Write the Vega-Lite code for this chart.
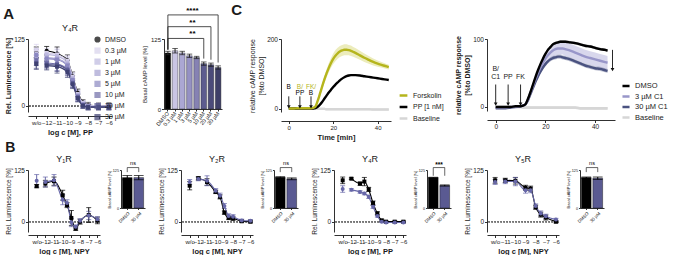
{
  "$schema": "https://vega.github.io/schema/vega-lite/v6.json",
  "padding": {"left": 3, "top": 2, "right": 0, "bottom": 0},
  "config": {
    "font": "Liberation Sans",
    "view": {"stroke": null},
    "axis": {"grid": false, "domainColor": "#1a1a1a", "tickColor": "#1a1a1a", "labelColor": "#1a1a1a", "titleColor": "#1a1a1a", "labelFontSize": 6.5, "titleFontSize": 7.5, "titleFontWeight": "bold", "tickSize": 2.5, "labelPadding": 1, "titlePadding": 2.5, "domainWidth": 0.9, "tickWidth": 0.9},
    "legend": {"labelFontSize": 7, "labelColor": "#1a1a1a", "padding": 0, "rowPadding": 0.5, "symbolSize": 20},
    "title": {"fontSize": 9, "fontWeight": "normal", "color": "#1a1a1a", "offset": 3},
    "errorbar": {"thickness": 0.8}
  },
  "datasets": {
    "aCurve": [
      {"c": "DMSO", "x": -13, "y": 100, "e": 10}, {"c": "DMSO", "x": -12, "y": 103, "e": 8}, {"c": "DMSO", "x": -11, "y": 98, "e": 12}, {"c": "DMSO", "x": -10, "y": 85, "e": 10}, {"c": "DMSO", "x": -9.5, "y": 55, "e": 8}, {"c": "DMSO", "x": -9, "y": 24, "e": 7}, {"c": "DMSO", "x": -8.5, "y": 6, "e": 5}, {"c": "DMSO", "x": -8, "y": 1, "e": 5}, {"c": "DMSO", "x": -7, "y": 0, "e": 5}, {"c": "DMSO", "x": -6, "y": 0, "e": 5},
      {"c": "0.3 µM", "x": -13, "y": 105, "e": 10}, {"c": "0.3 µM", "x": -12, "y": 99, "e": 8}, {"c": "0.3 µM", "x": -11, "y": 96, "e": 12}, {"c": "0.3 µM", "x": -10, "y": 84, "e": 10}, {"c": "0.3 µM", "x": -9.5, "y": 54, "e": 8}, {"c": "0.3 µM", "x": -9, "y": 22, "e": 7}, {"c": "0.3 µM", "x": -8.5, "y": 5, "e": 5}, {"c": "0.3 µM", "x": -8, "y": 0, "e": 5}, {"c": "0.3 µM", "x": -7, "y": 0, "e": 5}, {"c": "0.3 µM", "x": -6, "y": -1, "e": 5},
      {"c": "1 µM", "x": -13, "y": 97, "e": 10}, {"c": "1 µM", "x": -12, "y": 96, "e": 8}, {"c": "1 µM", "x": -11, "y": 93, "e": 12}, {"c": "1 µM", "x": -10, "y": 81, "e": 10}, {"c": "1 µM", "x": -9.5, "y": 52, "e": 8}, {"c": "1 µM", "x": -9, "y": 21, "e": 7}, {"c": "1 µM", "x": -8.5, "y": 4, "e": 5}, {"c": "1 µM", "x": -8, "y": -1, "e": 5}, {"c": "1 µM", "x": -7, "y": -1, "e": 5}, {"c": "1 µM", "x": -6, "y": -1, "e": 5},
      {"c": "3 µM", "x": -13, "y": 92, "e": 10}, {"c": "3 µM", "x": -12, "y": 90, "e": 8}, {"c": "3 µM", "x": -11, "y": 88, "e": 12}, {"c": "3 µM", "x": -10, "y": 77, "e": 10}, {"c": "3 µM", "x": -9.5, "y": 49, "e": 8}, {"c": "3 µM", "x": -9, "y": 19, "e": 7}, {"c": "3 µM", "x": -8.5, "y": 3, "e": 5}, {"c": "3 µM", "x": -8, "y": -1, "e": 5}, {"c": "3 µM", "x": -7, "y": -2, "e": 5}, {"c": "3 µM", "x": -6, "y": -1, "e": 5},
      {"c": "5 µM", "x": -13, "y": 95, "e": 10}, {"c": "5 µM", "x": -12, "y": 88, "e": 8}, {"c": "5 µM", "x": -11, "y": 86, "e": 12}, {"c": "5 µM", "x": -10, "y": 75, "e": 10}, {"c": "5 µM", "x": -9.5, "y": 48, "e": 8}, {"c": "5 µM", "x": -9, "y": 18, "e": 7}, {"c": "5 µM", "x": -8.5, "y": 2, "e": 5}, {"c": "5 µM", "x": -8, "y": -2, "e": 5}, {"c": "5 µM", "x": -7, "y": -2, "e": 5}, {"c": "5 µM", "x": -6, "y": -2, "e": 5},
      {"c": "10 µM", "x": -13, "y": 85, "e": 10}, {"c": "10 µM", "x": -12, "y": 80, "e": 8}, {"c": "10 µM", "x": -11, "y": 78, "e": 12}, {"c": "10 µM", "x": -10, "y": 68, "e": 10}, {"c": "10 µM", "x": -9.5, "y": 43, "e": 8}, {"c": "10 µM", "x": -9, "y": 16, "e": 7}, {"c": "10 µM", "x": -8.5, "y": 1, "e": 5}, {"c": "10 µM", "x": -8, "y": -2, "e": 5}, {"c": "10 µM", "x": -7, "y": -2, "e": 5}, {"c": "10 µM", "x": -6, "y": -2, "e": 5},
      {"c": "20 µM", "x": -13, "y": 80, "e": 10}, {"c": "20 µM", "x": -12, "y": 77, "e": 8}, {"c": "20 µM", "x": -11, "y": 76, "e": 12}, {"c": "20 µM", "x": -10, "y": 66, "e": 10}, {"c": "20 µM", "x": -9.5, "y": 42, "e": 8}, {"c": "20 µM", "x": -9, "y": 15, "e": 7}, {"c": "20 µM", "x": -8.5, "y": 0, "e": 5}, {"c": "20 µM", "x": -8, "y": -3, "e": 5}, {"c": "20 µM", "x": -7, "y": -3, "e": 5}, {"c": "20 µM", "x": -6, "y": -3, "e": 5},
      {"c": "30 µM", "x": -13, "y": 78, "e": 10}, {"c": "30 µM", "x": -12, "y": 75, "e": 8}, {"c": "30 µM", "x": -11, "y": 73, "e": 12}, {"c": "30 µM", "x": -10, "y": 63, "e": 10}, {"c": "30 µM", "x": -9.5, "y": 40, "e": 8}, {"c": "30 µM", "x": -9, "y": 14, "e": 7}, {"c": "30 µM", "x": -8.5, "y": 0, "e": 5}, {"c": "30 µM", "x": -8, "y": -3, "e": 5}, {"c": "30 µM", "x": -7, "y": -3, "e": 5}, {"c": "30 µM", "x": -6, "y": -3, "e": 5}
    ],
    "aBar": [
      {"c": "DMSO", "y": 100, "e": 3}, {"c": "0.3 µM", "y": 104, "e": 4}, {"c": "1 µM", "y": 100, "e": 3}, {"c": "3 µM", "y": 95, "e": 3},
      {"c": "5 µM", "y": 92, "e": 2}, {"c": "10 µM", "y": 81, "e": 3}, {"c": "20 µM", "y": 79, "e": 3}, {"c": "30 µM", "y": 74, "e": 3}
    ],
    "aSig": [
      {"a": "DMSO", "b": "10 µM", "m": "3 µM", "y": 126, "ya": 106, "yb": 90, "s": "**"},
      {"a": "DMSO", "b": "20 µM", "m": "3 µM", "y": 147, "ya": 106, "yb": 88, "s": "**"},
      {"a": "DMSO", "b": "30 µM", "m": "3 µM", "y": 168, "ya": 106, "yb": 83, "s": "****"}
    ],
    "cLeft": [
      {"t": 0, "Forskolin": 0, "fe": 1, "PP": 0, "Baseline": -1, "be": 3},
      {"t": 2, "Forskolin": 0, "fe": 1, "PP": 0, "Baseline": -1, "be": 3},
      {"t": 4, "Forskolin": 1, "fe": 1, "PP": 0, "Baseline": -1, "be": 3},
      {"t": 6, "Forskolin": 1, "fe": 1, "PP": 0, "Baseline": -1, "be": 3},
      {"t": 8, "Forskolin": 1, "fe": 1, "PP": 0, "Baseline": -1, "be": 3},
      {"t": 10, "Forskolin": 1, "fe": 1, "PP": 0, "Baseline": -1, "be": 3},
      {"t": 11, "Forskolin": 2, "fe": 1, "PP": 0, "Baseline": -1, "be": 3},
      {"t": 12, "Forskolin": 6, "fe": 2, "PP": 1, "Baseline": -1, "be": 3},
      {"t": 13, "Forskolin": 22, "fe": 4, "PP": 5, "Baseline": -1, "be": 3},
      {"t": 14, "Forskolin": 42, "fe": 6, "PP": 11, "Baseline": -1, "be": 3},
      {"t": 15, "Forskolin": 63, "fe": 8, "PP": 19, "Baseline": -1, "be": 3},
      {"t": 16, "Forskolin": 83, "fe": 10, "PP": 28, "Baseline": -1, "be": 3},
      {"t": 17, "Forskolin": 101, "fe": 12, "PP": 37, "Baseline": -2, "be": 3},
      {"t": 18, "Forskolin": 117, "fe": 13, "PP": 46, "Baseline": -2, "be": 3},
      {"t": 19, "Forskolin": 131, "fe": 14, "PP": 54, "Baseline": -2, "be": 3},
      {"t": 20, "Forskolin": 143, "fe": 15, "PP": 62, "Baseline": -2, "be": 3},
      {"t": 21, "Forskolin": 152, "fe": 16, "PP": 69, "Baseline": -2, "be": 3},
      {"t": 22, "Forskolin": 159, "fe": 16, "PP": 75, "Baseline": -2, "be": 3},
      {"t": 23, "Forskolin": 164, "fe": 16, "PP": 81, "Baseline": -2, "be": 3},
      {"t": 24, "Forskolin": 167, "fe": 16, "PP": 86, "Baseline": -2, "be": 3},
      {"t": 25, "Forskolin": 169, "fe": 16, "PP": 90, "Baseline": -2, "be": 3},
      {"t": 26, "Forskolin": 169, "fe": 16, "PP": 93, "Baseline": -2, "be": 3},
      {"t": 27, "Forskolin": 168, "fe": 15, "PP": 95, "Baseline": -2, "be": 3},
      {"t": 28, "Forskolin": 166, "fe": 15, "PP": 96, "Baseline": -2, "be": 3},
      {"t": 29, "Forskolin": 163, "fe": 14, "PP": 96, "Baseline": -2, "be": 3},
      {"t": 30, "Forskolin": 160, "fe": 14, "PP": 96, "Baseline": -2, "be": 3},
      {"t": 32, "Forskolin": 153, "fe": 13, "PP": 95, "Baseline": -2, "be": 3},
      {"t": 34, "Forskolin": 146, "fe": 12, "PP": 93, "Baseline": -2, "be": 3},
      {"t": 36, "Forskolin": 140, "fe": 11, "PP": 91, "Baseline": -2, "be": 3},
      {"t": 38, "Forskolin": 134, "fe": 10, "PP": 89, "Baseline": -3, "be": 3},
      {"t": 40, "Forskolin": 129, "fe": 9, "PP": 87, "Baseline": -3, "be": 3},
      {"t": 42, "Forskolin": 125, "fe": 8, "PP": 85, "Baseline": -3, "be": 3},
      {"t": 44, "Forskolin": 121, "fe": 7, "PP": 83, "Baseline": -3, "be": 3},
      {"t": 45, "Forskolin": 119, "fe": 7, "PP": 82, "Baseline": -3, "be": 3}
    ],
    "cLeftArrows": [{"t": 0, "y0": 35, "y1": 5}, {"t": 5, "y0": 35, "y1": 5}, {"t": 10, "y0": 35, "y1": 5}],
    "cLeftText": [
      {"t": 0, "y": 63, "s": "B", "g": "PP"},
      {"t": 5, "y": 63, "s": "B/", "g": "Forskolin"},
      {"t": 5, "y": 45, "s": "PP", "g": "PP"},
      {"t": 10, "y": 63, "s": "FK/", "g": "Forskolin"},
      {"t": 10, "y": 45, "s": "B", "g": "PP"}
    ],
    "cRight": [
      {"t": 0, "DMSO": 0, "e0": 1, "C3": -1, "e3": 1, "C30": -2, "e30": 1, "Baseline": 0, "be": 2},
      {"t": 2, "DMSO": 0, "e0": 1, "C3": -1, "e3": 1, "C30": -2, "e30": 1, "Baseline": 0, "be": 2},
      {"t": 4, "DMSO": 0, "e0": 1, "C3": -1, "e3": 1, "C30": -2, "e30": 1, "Baseline": 0, "be": 2},
      {"t": 6, "DMSO": 0, "e0": 1, "C3": 0, "e3": 1, "C30": -1, "e30": 1, "Baseline": 0, "be": 2},
      {"t": 8, "DMSO": 1, "e0": 1, "C3": 0, "e3": 1, "C30": 0, "e30": 1, "Baseline": 0, "be": 2},
      {"t": 10, "DMSO": 1, "e0": 1, "C3": 1, "e3": 1, "C30": 1, "e30": 1, "Baseline": 0, "be": 2},
      {"t": 11, "DMSO": 2, "e0": 1, "C3": 2, "e3": 1, "C30": 2, "e30": 1, "Baseline": -1, "be": 2},
      {"t": 12, "DMSO": 4, "e0": 1, "C3": 4, "e3": 2, "C30": 4, "e30": 1, "Baseline": -1, "be": 2},
      {"t": 13, "DMSO": 12, "e0": 1, "C3": 11, "e3": 3, "C30": 10, "e30": 1, "Baseline": -1, "be": 2},
      {"t": 14, "DMSO": 22, "e0": 1, "C3": 21, "e3": 4, "C30": 19, "e30": 2, "Baseline": -1, "be": 2},
      {"t": 15, "DMSO": 33, "e0": 2, "C3": 31, "e3": 5, "C30": 28, "e30": 2, "Baseline": -1, "be": 2},
      {"t": 16, "DMSO": 44, "e0": 2, "C3": 41, "e3": 6, "C30": 37, "e30": 2, "Baseline": -1, "be": 2},
      {"t": 17, "DMSO": 54, "e0": 2, "C3": 50, "e3": 7, "C30": 45, "e30": 3, "Baseline": -1, "be": 2},
      {"t": 18, "DMSO": 63, "e0": 2, "C3": 58, "e3": 7, "C30": 52, "e30": 3, "Baseline": -1, "be": 2},
      {"t": 19, "DMSO": 71, "e0": 2, "C3": 65, "e3": 8, "C30": 58, "e30": 3, "Baseline": -1, "be": 2},
      {"t": 20, "DMSO": 78, "e0": 2, "C3": 71, "e3": 8, "C30": 63, "e30": 3, "Baseline": -1, "be": 2},
      {"t": 21, "DMSO": 84, "e0": 2, "C3": 76, "e3": 9, "C30": 67, "e30": 3, "Baseline": -1, "be": 2},
      {"t": 22, "DMSO": 88, "e0": 2, "C3": 80, "e3": 9, "C30": 70, "e30": 3, "Baseline": -1, "be": 2},
      {"t": 23, "DMSO": 92, "e0": 2, "C3": 83, "e3": 9, "C30": 72, "e30": 3, "Baseline": -1, "be": 2},
      {"t": 24, "DMSO": 94, "e0": 2, "C3": 85, "e3": 9, "C30": 73, "e30": 3, "Baseline": -1, "be": 2},
      {"t": 25, "DMSO": 95, "e0": 2, "C3": 86, "e3": 9, "C30": 74, "e30": 3, "Baseline": -1, "be": 2},
      {"t": 26, "DMSO": 96, "e0": 2, "C3": 86, "e3": 9, "C30": 74, "e30": 3, "Baseline": -1, "be": 2},
      {"t": 27, "DMSO": 96, "e0": 2, "C3": 86, "e3": 9, "C30": 73, "e30": 3, "Baseline": -1, "be": 2},
      {"t": 28, "DMSO": 96, "e0": 2, "C3": 85, "e3": 10, "C30": 72, "e30": 3, "Baseline": -1, "be": 2},
      {"t": 30, "DMSO": 95, "e0": 2, "C3": 83, "e3": 10, "C30": 70, "e30": 3, "Baseline": -1, "be": 2},
      {"t": 32, "DMSO": 94, "e0": 2, "C3": 80, "e3": 10, "C30": 67, "e30": 3, "Baseline": -1, "be": 2},
      {"t": 34, "DMSO": 92, "e0": 2, "C3": 77, "e3": 10, "C30": 64, "e30": 3, "Baseline": -2, "be": 2},
      {"t": 36, "DMSO": 90, "e0": 2, "C3": 74, "e3": 10, "C30": 61, "e30": 3, "Baseline": -2, "be": 2},
      {"t": 38, "DMSO": 89, "e0": 2, "C3": 72, "e3": 10, "C30": 59, "e30": 3, "Baseline": -2, "be": 2},
      {"t": 40, "DMSO": 87, "e0": 2, "C3": 70, "e3": 10, "C30": 57, "e30": 3, "Baseline": -2, "be": 2},
      {"t": 42, "DMSO": 85, "e0": 2, "C3": 68, "e3": 10, "C30": 56, "e30": 3, "Baseline": -2, "be": 2},
      {"t": 44, "DMSO": 84, "e0": 2, "C3": 66, "e3": 10, "C30": 54, "e30": 3, "Baseline": -2, "be": 2},
      {"t": 45, "DMSO": 83, "e0": 2, "C3": 65, "e3": 10, "C30": 53, "e30": 3, "Baseline": -2, "be": 2}
    ],
    "cRightArrows": [{"t": 0, "y0": 33, "y1": 4}, {"t": 5, "y0": 33, "y1": 4}, {"t": 10, "y0": 33, "y1": 4}, {"t": 47, "y0": 84, "y1": 55}],
    "cRightText": [
      {"t": 0, "y": 56, "s": "B/"}, {"t": 0, "y": 44, "s": "C1"}, {"t": 5, "y": 44, "s": "PP"}, {"t": 10, "y": 44, "s": "FK"}
    ],
    "y1": [
      {"c": "DMSO", "x": -13, "y": 86, "e": 4}, {"c": "DMSO", "x": -12, "y": 92, "e": 8}, {"c": "DMSO", "x": -11, "y": 98, "e": 10}, {"c": "DMSO", "x": -10, "y": 64, "e": 12}, {"c": "DMSO", "x": -9.5, "y": 40, "e": 6}, {"c": "DMSO", "x": -9, "y": 9, "e": 18}, {"c": "DMSO", "x": -8.5, "y": -17, "e": 4}, {"c": "DMSO", "x": -8, "y": 0, "e": 6}, {"c": "DMSO", "x": -7, "y": 16, "e": 18}, {"c": "DMSO", "x": -6, "y": 3, "e": 8},
      {"c": "30 µM", "x": -13, "y": 99, "e": 15}, {"c": "30 µM", "x": -12, "y": 96, "e": 12}, {"c": "30 µM", "x": -11, "y": 100, "e": 14}, {"c": "30 µM", "x": -10, "y": 53, "e": 12}, {"c": "30 µM", "x": -9.5, "y": 45, "e": 8}, {"c": "30 µM", "x": -9, "y": -2, "e": 10}, {"c": "30 µM", "x": -8.5, "y": -12, "e": 4}, {"c": "30 µM", "x": -8, "y": 2, "e": 5}, {"c": "30 µM", "x": -7, "y": 15, "e": 10}, {"c": "30 µM", "x": -6, "y": 6, "e": 6}
    ],
    "y2": [
      {"c": "DMSO", "x": -13, "y": 87, "e": 10}, {"c": "DMSO", "x": -12, "y": 105, "e": 4}, {"c": "DMSO", "x": -11, "y": 96, "e": 8}, {"c": "DMSO", "x": -10, "y": 72, "e": 4}, {"c": "DMSO", "x": -9.5, "y": 60, "e": 5}, {"c": "DMSO", "x": -9, "y": 22, "e": 4}, {"c": "DMSO", "x": -8.5, "y": 9, "e": 4}, {"c": "DMSO", "x": -8, "y": 8, "e": 5}, {"c": "DMSO", "x": -7, "y": 1, "e": 2}, {"c": "DMSO", "x": -6, "y": 0, "e": 3},
      {"c": "30 µM", "x": -13, "y": 96, "e": 6}, {"c": "30 µM", "x": -12, "y": 103, "e": 4}, {"c": "30 µM", "x": -11, "y": 99, "e": 12}, {"c": "30 µM", "x": -10, "y": 75, "e": 5}, {"c": "30 µM", "x": -9.5, "y": 63, "e": 6}, {"c": "30 µM", "x": -9, "y": 38, "e": 6}, {"c": "30 µM", "x": -8.5, "y": 14, "e": 5}, {"c": "30 µM", "x": -8, "y": 12, "e": 5}, {"c": "30 µM", "x": -7, "y": 3, "e": 3}, {"c": "30 µM", "x": -6, "y": 2, "e": 3}
    ],
    "y4": [
      {"c": "DMSO", "x": -13, "y": 100, "e": 8}, {"c": "DMSO", "x": -12, "y": 104, "e": 2}, {"c": "DMSO", "x": -11, "y": 92, "e": 4}, {"c": "DMSO", "x": -10.5, "y": 97, "e": 10}, {"c": "DMSO", "x": -10, "y": 78, "e": 5}, {"c": "DMSO", "x": -9.5, "y": 45, "e": 5}, {"c": "DMSO", "x": -9, "y": 20, "e": 4}, {"c": "DMSO", "x": -8.5, "y": 3, "e": 3}, {"c": "DMSO", "x": -8, "y": 0, "e": 2}, {"c": "DMSO", "x": -7, "y": 0, "e": 2}, {"c": "DMSO", "x": -6, "y": 0, "e": 2},
      {"c": "30 µM", "x": -13, "y": 79, "e": 8}, {"c": "30 µM", "x": -12, "y": 77, "e": 3}, {"c": "30 µM", "x": -11, "y": 72, "e": 3}, {"c": "30 µM", "x": -10.5, "y": 68, "e": 3}, {"c": "30 µM", "x": -10, "y": 60, "e": 4}, {"c": "30 µM", "x": -9.5, "y": 36, "e": 4}, {"c": "30 µM", "x": -9, "y": 14, "e": 3}, {"c": "30 µM", "x": -8.5, "y": 0, "e": 2}, {"c": "30 µM", "x": -8, "y": -2, "e": 2}, {"c": "30 µM", "x": -7, "y": -2, "e": 2}, {"c": "30 µM", "x": -6, "y": -2, "e": 2}
    ],
    "y5": [
      {"c": "DMSO", "x": -12, "y": 100, "e": 7}, {"c": "DMSO", "x": -11, "y": 100, "e": 5}, {"c": "DMSO", "x": -10, "y": 99, "e": 8}, {"c": "DMSO", "x": -9, "y": 82, "e": 6}, {"c": "DMSO", "x": -8.5, "y": 80, "e": 6}, {"c": "DMSO", "x": -8, "y": 35, "e": 5}, {"c": "DMSO", "x": -7.5, "y": 17, "e": 6}, {"c": "DMSO", "x": -7, "y": 10, "e": 6}, {"c": "DMSO", "x": -6, "y": 0, "e": 3},
      {"c": "30 µM", "x": -12, "y": 96, "e": 6}, {"c": "30 µM", "x": -11, "y": 97, "e": 5}, {"c": "30 µM", "x": -10, "y": 97, "e": 10}, {"c": "30 µM", "x": -9, "y": 76, "e": 7}, {"c": "30 µM", "x": -8.5, "y": 76, "e": 6}, {"c": "30 µM", "x": -8, "y": 38, "e": 5}, {"c": "30 µM", "x": -7.5, "y": 20, "e": 6}, {"c": "30 µM", "x": -7, "y": 13, "e": 5}, {"c": "30 µM", "x": -6, "y": 5, "e": 3}
    ]
  },
  "resolve": {"scale": {"color": "independent", "shape": "independent"}, "legend": {"color": "independent", "shape": "independent"}},
  "vconcat": [
    {
      "resolve": {"scale": {"color": "independent", "shape": "independent"}, "legend": {"color": "independent", "shape": "independent"}},
      "spacing": 9,
      "hconcat": [
        {
          "title": {"text": "A", "orient": "left", "angle": 0, "anchor": "end", "align": "left", "baseline": "top", "fontSize": 15, "fontWeight": "bold", "offset": -10},
          "resolve": {"scale": {"color": "independent", "shape": "independent"}, "legend": {"color": "independent", "shape": "independent"}},
          "spacing": 14,
          "hconcat": [
            {
              "title": "Y₄R",
              "width": 84, "height": 73,
              "data": {"name": "aCurve"},
              "layer": [
                {"mark": {"type": "rule", "strokeDash": [1.5, 1.5], "color": "#777", "strokeWidth": 0.8}, "encoding": {"y": {"datum": 0, "type": "quantitative", "title": "Rel. Luminescence [%]"}}},
                {
                  "encoding": {
                    "x": {"field": "x", "type": "quantitative", "title": "log c [M], PP", "scale": {"domain": [-13.8, -5.7], "nice": false, "zero": false}, "axis": {"values": [-13, -12, -11, -10, -9, -8, -7, -6], "labelExpr": "datum.value == -13 ? 'w/o' : datum.label", "labelOverlap": false, "labelFontSize": 6, "offset": 4}},
                    "y": {"field": "y", "type": "quantitative", "title": "Rel. Luminescence [%]", "scale": {"domain": [-12, 125], "nice": false}, "axis": {"values": [0, 25, 50, 75, 100, 125], "titleFontSize": 7}},
                    "color": {"field": "c", "type": "nominal", "scale": {"domain": ["DMSO", "0.3 µM", "1 µM", "3 µM", "5 µM", "10 µM", "20 µM", "30 µM"], "range": ["#000000", "#d8d2ec", "#bdb9df", "#a4a0d1", "#8b88c1", "#6f6da8", "#55568c", "#3f4172"]}, "legend": {"orient": "none", "legendX": 66, "legendY": -3, "symbolType": "circle", "labelFontSize": 7, "symbolSize": 22, "rowPadding": 0.1, "title": null}}
                  },
                  "layer": [
                    {"mark": {"type": "errorbar", "ticks": true, "opacity": 0.7}, "encoding": {"yError": {"field": "e"}}},
                    {"transform": [{"filter": "datum.x > -12.5"}], "mark": {"type": "line", "interpolate": "monotone", "strokeWidth": 1.2}, "encoding": {}},
                    {"mark": {"type": "point", "filled": true, "size": 16, "opacity": 1}, "encoding": {"shape": {"field": "c", "type": "nominal", "scale": {"domain": ["DMSO", "0.3 µM", "1 µM", "3 µM", "5 µM", "10 µM", "20 µM", "30 µM"], "range": ["circle", "square", "square", "square", "square", "square", "square", "square"]}, "legend": null}}}
                  ]
                }
              ]
            },
            {
              "width": 58, "height": 70,
              "layer": [
                {
                  "data": {"name": "aBar"},
                  "encoding": {
                    "x": {"field": "c", "type": "nominal", "title": null, "scale": {"domain": ["DMSO", "0.3 µM", "1 µM", "3 µM", "5 µM", "10 µM", "20 µM", "30 µM"], "paddingInner": 0.22, "paddingOuter": 0.15}, "axis": {"labelAngle": -50, "labelFontSize": 5.5, "tickSize": 2}},
                    "y": {"field": "y", "type": "quantitative", "title": "Basal cAMP level [%]", "scale": {"domain": [0, 125], "nice": false}, "axis": {"values": [0, 25, 50, 75, 100, 125], "titleFontSize": 6, "titleFontWeight": "normal", "labelFontSize": 6}}
                  },
                  "layer": [
                    {"mark": {"type": "bar", "stroke": "#222", "strokeWidth": 0.4}, "encoding": {"color": {"field": "c", "type": "nominal", "scale": {"domain": ["DMSO", "0.3 µM", "1 µM", "3 µM", "5 µM", "10 µM", "20 µM", "30 µM"], "range": ["#000000", "#c9c5e3", "#aba7d3", "#9591c3", "#8682b3", "#5d5c8f", "#4b4b7a", "#3e3f68"]}, "legend": null}}},
                    {"mark": {"type": "errorbar", "ticks": true, "color": "#222"}, "encoding": {"yError": {"field": "e"}}}
                  ]
                },
                {
                  "data": {"name": "aSig"},
                  "layer": [
                    {"mark": {"type": "rule", "strokeWidth": 0.8, "color": "#222"}, "encoding": {"x": {"field": "a", "type": "nominal", "title": null}, "x2": {"field": "b"}, "y": {"field": "y", "type": "quantitative", "title": "Basal cAMP level [%]"}}},
                    {"mark": {"type": "rule", "strokeWidth": 0.8, "color": "#222"}, "encoding": {"x": {"field": "a", "type": "nominal", "title": null}, "y": {"field": "y", "type": "quantitative", "title": "Basal cAMP level [%]"}, "y2": {"field": "ya"}}},
                    {"mark": {"type": "rule", "strokeWidth": 0.8, "color": "#222"}, "encoding": {"x": {"field": "b", "type": "nominal", "title": null}, "y": {"field": "y", "type": "quantitative", "title": "Basal cAMP level [%]"}, "y2": {"field": "yb"}}},
                    {"mark": {"type": "text", "fontSize": 8, "fontWeight": "bold", "baseline": "bottom", "dy": 0, "dx": 3}, "encoding": {"x": {"field": "m", "type": "nominal", "title": null}, "y": {"field": "y", "type": "quantitative", "title": "Basal cAMP level [%]"}, "text": {"field": "s"}}}
                  ]
                }
              ]
            }
          ]
        },
        {
          "title": {"text": "C", "orient": "left", "angle": 0, "anchor": "end", "align": "left", "baseline": "top", "fontSize": 15, "fontWeight": "bold", "offset": 6, "dy": -33},
          "resolve": {"scale": {"color": "independent", "shape": "independent"}, "legend": {"color": "independent", "shape": "independent"}},
          "spacing": 10,
          "hconcat": [
            {
              "width": 110, "height": 73,
              "layer": [
                {
                  "data": {"name": "cLeft"},
                  "layer": [
                    {"mark": {"type": "errorband", "color": "#d9d9d9", "opacity": 1}, "encoding": {"x": {"field": "t", "type": "quantitative", "title": "Time [min]", "scale": {"domain": [-3.5, 46], "nice": false}, "axis": {"values": [0, 5, 10, 15, 20, 25, 30, 35, 40, 45], "labelOverlap": false, "labelFontSize": 6, "offset": 9}}, "y": {"field": "Baseline", "type": "quantitative", "title": ["relative cAMP response", "[%to DMSO]"], "scale": {"domain": [-10, 200], "nice": false}, "axis": {"values": [0, 50, 100, 150, 200], "titleFontWeight": "normal", "titleFontSize": 7}}, "yError": {"field": "be"}}},
                    {"mark": {"type": "errorband", "color": "#c9c940", "opacity": 0.35}, "encoding": {"x": {"field": "t", "type": "quantitative", "title": "Time [min]"}, "y": {"field": "Forskolin", "type": "quantitative", "title": ["relative cAMP response", "[%to DMSO]"]}, "yError": {"field": "fe"}}},
                    {"transform": [{"fold": ["Baseline", "PP", "Forskolin"], "as": ["s", "v"]}], "mark": {"type": "line", "strokeWidth": 2.4, "interpolate": "monotone"}, "encoding": {"x": {"field": "t", "type": "quantitative", "title": "Time [min]"}, "y": {"field": "v", "type": "quantitative", "title": ["relative cAMP response", "[%to DMSO]"]}, "color": {"field": "s", "type": "nominal", "scale": {"domain": ["Forskolin", "PP", "Baseline"], "range": ["#b5b51c", "#000000", "#d6d6d6"]}, "legend": {"orient": "none", "legendX": 117, "legendY": 51, "symbolType": "stroke", "symbolStrokeWidth": 2.5, "symbolSize": 60, "labelFontSize": 7, "rowPadding": 0.5, "title": null, "labelExpr": "datum.label == 'PP' ? 'PP [1 nM]' : datum.label"}}}}
                  ]
                },
                {
                  "data": {"name": "cLeftArrows"},
                  "layer": [
                    {"mark": {"type": "rule", "strokeWidth": 0.9, "color": "#111"}, "encoding": {"x": {"field": "t", "type": "quantitative", "title": "Time [min]"}, "y": {"field": "y0", "type": "quantitative", "title": ["relative cAMP response", "[%to DMSO]"]}, "y2": {"field": "y1"}}},
                    {"mark": {"type": "point", "shape": "triangle-down", "filled": true, "size": 14, "color": "#111", "opacity": 1}, "encoding": {"x": {"field": "t", "type": "quantitative", "title": "Time [min]"}, "y": {"field": "y1", "type": "quantitative", "title": ["relative cAMP response", "[%to DMSO]"]}}}
                  ]
                },
                {
                  "data": {"name": "cLeftText"},
                  "mark": {"type": "text", "fontSize": 6.5},
                  "encoding": {"x": {"field": "t", "type": "quantitative", "title": "Time [min]"}, "y": {"field": "y", "type": "quantitative", "title": ["relative cAMP response", "[%to DMSO]"]}, "text": {"field": "s"}, "color": {"field": "g", "type": "nominal", "legend": null}}
                }
              ]
            },
            {
              "width": 128, "height": 72,
              "layer": [
                {
                  "data": {"name": "cRight"},
                  "layer": [
                    {"mark": {"type": "errorband", "color": "#dadada", "opacity": 1}, "encoding": {"x": {"field": "t", "type": "quantitative", "title": null, "scale": {"domain": [-3.5, 48], "nice": false}, "axis": {"values": [0, 5, 10, 15, 20, 25, 30, 35, 40, 45], "labelOverlap": false, "labelFontSize": 6.5, "offset": 9}}, "y": {"field": "Baseline", "type": "quantitative", "title": ["relative cAMP response", "[%to DMSO]"], "scale": {"domain": [-6, 100], "nice": false}, "axis": {"values": [0, 25, 50, 75, 100], "titleFontSize": 7}}, "yError": {"field": "be"}}},
                    {"mark": {"type": "errorband", "color": "#9d9bcf", "opacity": 0.4}, "encoding": {"x": {"field": "t", "type": "quantitative", "title": null}, "y": {"field": "C3", "type": "quantitative", "title": ["relative cAMP response", "[%to DMSO]"]}, "yError": {"field": "e3"}}},
                    {"mark": {"type": "errorband", "color": "#4a5280", "opacity": 0.35}, "encoding": {"x": {"field": "t", "type": "quantitative", "title": null}, "y": {"field": "C30", "type": "quantitative", "title": ["relative cAMP response", "[%to DMSO]"]}, "yError": {"field": "e30"}}},
                    {"mark": {"type": "errorband", "color": "#000000", "opacity": 0.35}, "encoding": {"x": {"field": "t", "type": "quantitative", "title": null}, "y": {"field": "DMSO", "type": "quantitative", "title": ["relative cAMP response", "[%to DMSO]"]}, "yError": {"field": "e0"}}},
                    {"transform": [{"fold": ["Baseline", "C30", "C3", "DMSO"], "as": ["s", "v"]}], "mark": {"type": "line", "strokeWidth": 2.4, "interpolate": "monotone"}, "encoding": {"x": {"field": "t", "type": "quantitative", "title": null}, "y": {"field": "v", "type": "quantitative", "title": ["relative cAMP response", "[%to DMSO]"]}, "color": {"field": "s", "type": "nominal", "scale": {"domain": ["DMSO", "C3", "C30", "Baseline"], "range": ["#000000", "#9896c9", "#4a5280", "#d6d6d6"]}, "legend": {"orient": "none", "legendX": 134, "legendY": 42, "symbolType": "stroke", "symbolStrokeWidth": 2.5, "symbolSize": 50, "labelFontSize": 7.5, "rowPadding": 0.5, "title": null, "labelExpr": "datum.label == 'C3' ? '3 µM C1' : datum.label == 'C30' ? '30 µM C1' : datum.label"}}}}
                  ]
                },
                {
                  "data": {"name": "cRightArrows"},
                  "layer": [
                    {"mark": {"type": "rule", "strokeWidth": 0.9, "color": "#111"}, "encoding": {"x": {"field": "t", "type": "quantitative", "title": null}, "y": {"field": "y0", "type": "quantitative", "title": ["relative cAMP response", "[%to DMSO]"]}, "y2": {"field": "y1"}}},
                    {"mark": {"type": "point", "shape": "triangle-down", "filled": true, "size": 14, "color": "#111", "opacity": 1}, "encoding": {"x": {"field": "t", "type": "quantitative", "title": null}, "y": {"field": "y1", "type": "quantitative", "title": ["relative cAMP response", "[%to DMSO]"]}}}
                  ]
                },
                {
                  "data": {"name": "cRightText"},
                  "mark": {"type": "text", "fontSize": 7, "color": "#222"},
                  "encoding": {"x": {"field": "t", "type": "quantitative", "title": null}, "y": {"field": "y", "type": "quantitative", "title": ["relative cAMP response", "[%to DMSO]"]}, "text": {"field": "s"}}
                }
              ]
            }
          ]
        }
      ]
    },
    {
      "title": {"text": "B", "anchor": "start", "fontSize": 14, "fontWeight": "bold", "offset": 0, "frame": "bounds"},
      "resolve": {"scale": {"color": "independent", "shape": "independent"}, "legend": {"color": "independent", "shape": "independent"}},
      "spacing": 13,
      "hconcat": [
        {
          "resolve": {"scale": {"color": "independent", "shape": "independent"}, "legend": {"color": "independent", "shape": "independent"}},
          "spacing": 6,
          "hconcat": [
            {
              "title": "Y₁R", "width": 72, "height": 62, "data": {"name": "y1"},
              "layer": [
                {"mark": {"type": "rule", "strokeDash": [1.5, 1.5], "color": "#777", "strokeWidth": 0.8}, "encoding": {"y": {"datum": 0, "type": "quantitative", "title": "Rel. Luminescence [%]"}}},
                {
                  "encoding": {
                    "x": {"field": "x", "type": "quantitative", "title": "log c [M], NPY", "scale": {"domain": [-14, -5.7], "nice": false, "zero": false}, "axis": {"values": [-13, -12, -11, -10, -9, -8, -7, -6], "labelExpr": "datum.value == -13 ? 'w/o' : datum.label", "labelOverlap": false, "labelFontSize": 6, "offset": 3}},
                    "y": {"field": "y", "type": "quantitative", "title": "Rel. Luminescence [%]", "scale": {"domain": [-25, 125], "nice": false}, "axis": {"values": [0, 25, 50, 75, 100, 125], "titleFontSize": 6.5, "titleFontWeight": "normal"}},
                    "color": {"field": "c", "type": "nominal", "scale": {"domain": ["DMSO", "30 µM"], "range": ["#000000", "#6767a8"]}, "legend": null}
                  },
                  "layer": [
                    {"mark": {"type": "errorbar", "ticks": true}, "encoding": {"yError": {"field": "e"}}},
                    {"transform": [{"filter": "datum.x > -12.5"}], "mark": {"type": "line", "interpolate": "monotone", "strokeWidth": 1.1}, "encoding": {}},
                    {"mark": {"type": "point", "filled": true, "size": 16, "opacity": 1}, "encoding": {"shape": {"field": "c", "type": "nominal", "scale": {"domain": ["DMSO", "30 µM"], "range": ["square", "circle"]}, "legend": null}}}
                  ]
                }
              ]
            },
            {
              "width": 24, "height": 38,
              "layer": [
                {
                  "data": {"values": [{"c": "DMSO", "y": 100, "e": 7}, {"c": "30 µM", "y": 100, "e": 7}]},
                  "encoding": {
                    "x": {"field": "c", "type": "nominal", "title": null, "scale": {"domain": ["DMSO", "30 µM"], "paddingInner": 0.15, "paddingOuter": 0.12}, "axis": {"labelAngle": -45, "labelFontSize": 4.5, "tickSize": 1.5}},
                    "y": {"field": "y", "type": "quantitative", "title": "Basal cAMP level [%]", "scale": {"domain": [0, 125], "nice": false}, "axis": {"values": [0, 25, 50, 75, 100, 125], "labelFontSize": 3.8, "titleFontSize": 4, "titleFontWeight": "normal", "tickSize": 1.5, "titlePadding": 1}}
                  },
                  "layer": [
                    {"mark": {"type": "bar", "stroke": "#000", "strokeWidth": 0.4}, "encoding": {"color": {"field": "c", "type": "nominal", "scale": {"domain": ["DMSO", "30 µM"], "range": ["#000000", "#5a5a92"]}, "legend": null}}},
                    {"mark": {"type": "errorbar", "ticks": true, "color": "#000"}, "encoding": {"yError": {"field": "e"}}}
                  ]
                },
                {
                  "data": {"values": [{"a": "DMSO", "b": "30 µM", "y": 133, "d": 118}]},
                  "layer": [
                    {"mark": {"type": "rule", "strokeWidth": 0.6}, "encoding": {"x": {"field": "a", "type": "nominal", "title": null}, "x2": {"field": "b"}, "y": {"field": "y", "type": "quantitative", "title": "Basal cAMP level [%]"}}},
                    {"mark": {"type": "rule", "strokeWidth": 0.6}, "encoding": {"x": {"field": "a", "type": "nominal", "title": null}, "y": {"field": "y", "type": "quantitative", "title": "Basal cAMP level [%]"}, "y2": {"field": "d"}}},
                    {"mark": {"type": "rule", "strokeWidth": 0.6}, "encoding": {"x": {"field": "b", "type": "nominal", "title": null}, "y": {"field": "y", "type": "quantitative", "title": "Basal cAMP level [%]"}, "y2": {"field": "d"}}}
                  ]
                },
                {"data": {"values": [{"s": "ns", "y": 134}]}, "mark": {"type": "text", "fontSize": 5.5, "baseline": "bottom", "dy": -1}, "encoding": {"y": {"field": "y", "type": "quantitative", "title": "Basal cAMP level [%]"}, "text": {"field": "s"}}}
              ]
            }
          ]
        },
        {
          "resolve": {"scale": {"color": "independent", "shape": "independent"}, "legend": {"color": "independent", "shape": "independent"}},
          "spacing": 6,
          "hconcat": [
            {
              "title": "Y₂R", "width": 72, "height": 62, "data": {"name": "y2"},
              "layer": [
                {"mark": {"type": "rule", "strokeDash": [1.5, 1.5], "color": "#777", "strokeWidth": 0.8}, "encoding": {"y": {"datum": 0, "type": "quantitative", "title": "Rel. Luminescence [%]"}}},
                {
                  "encoding": {
                    "x": {"field": "x", "type": "quantitative", "title": "log c [M], NPY", "scale": {"domain": [-14, -5.7], "nice": false, "zero": false}, "axis": {"values": [-13, -12, -11, -10, -9, -8, -7, -6], "labelExpr": "datum.value == -13 ? 'w/o' : datum.label", "labelOverlap": false, "labelFontSize": 6, "offset": 3}},
                    "y": {"field": "y", "type": "quantitative", "title": "Rel. Luminescence [%]", "scale": {"domain": [-25, 125], "nice": false}, "axis": {"values": [0, 25, 50, 75, 100, 125], "titleFontSize": 6.5, "titleFontWeight": "normal"}},
                    "color": {"field": "c", "type": "nominal", "scale": {"domain": ["DMSO", "30 µM"], "range": ["#000000", "#6767a8"]}, "legend": null}
                  },
                  "layer": [
                    {"mark": {"type": "errorbar", "ticks": true}, "encoding": {"yError": {"field": "e"}}},
                    {"transform": [{"filter": "datum.x > -12.5"}], "mark": {"type": "line", "interpolate": "monotone", "strokeWidth": 1.1}, "encoding": {}},
                    {"mark": {"type": "point", "filled": true, "size": 16, "opacity": 1}, "encoding": {"shape": {"field": "c", "type": "nominal", "scale": {"domain": ["DMSO", "30 µM"], "range": ["square", "circle"]}, "legend": null}}}
                  ]
                }
              ]
            },
            {
              "width": 24, "height": 38,
              "layer": [
                {
                  "data": {"values": [{"c": "DMSO", "y": 101, "e": 2}, {"c": "30 µM", "y": 96, "e": 3}]},
                  "encoding": {
                    "x": {"field": "c", "type": "nominal", "title": null, "scale": {"domain": ["DMSO", "30 µM"], "paddingInner": 0.15, "paddingOuter": 0.12}, "axis": {"labelAngle": -45, "labelFontSize": 4.5, "tickSize": 1.5}},
                    "y": {"field": "y", "type": "quantitative", "title": "Basal cAMP level [%]", "scale": {"domain": [0, 125], "nice": false}, "axis": {"values": [0, 25, 50, 75, 100, 125], "labelFontSize": 3.8, "titleFontSize": 4, "titleFontWeight": "normal", "tickSize": 1.5, "titlePadding": 1}}
                  },
                  "layer": [
                    {"mark": {"type": "bar", "stroke": "#000", "strokeWidth": 0.4}, "encoding": {"color": {"field": "c", "type": "nominal", "scale": {"domain": ["DMSO", "30 µM"], "range": ["#000000", "#5a5a92"]}, "legend": null}}},
                    {"mark": {"type": "errorbar", "ticks": true, "color": "#000"}, "encoding": {"yError": {"field": "e"}}}
                  ]
                },
                {
                  "data": {"values": [{"a": "DMSO", "b": "30 µM", "y": 133, "d": 118}]},
                  "layer": [
                    {"mark": {"type": "rule", "strokeWidth": 0.6}, "encoding": {"x": {"field": "a", "type": "nominal", "title": null}, "x2": {"field": "b"}, "y": {"field": "y", "type": "quantitative", "title": "Basal cAMP level [%]"}}},
                    {"mark": {"type": "rule", "strokeWidth": 0.6}, "encoding": {"x": {"field": "a", "type": "nominal", "title": null}, "y": {"field": "y", "type": "quantitative", "title": "Basal cAMP level [%]"}, "y2": {"field": "d"}}},
                    {"mark": {"type": "rule", "strokeWidth": 0.6}, "encoding": {"x": {"field": "b", "type": "nominal", "title": null}, "y": {"field": "y", "type": "quantitative", "title": "Basal cAMP level [%]"}, "y2": {"field": "d"}}}
                  ]
                },
                {"data": {"values": [{"s": "ns", "y": 134}]}, "mark": {"type": "text", "fontSize": 5.5, "baseline": "bottom", "dy": -1}, "encoding": {"y": {"field": "y", "type": "quantitative", "title": "Basal cAMP level [%]"}, "text": {"field": "s"}}}
              ]
            }
          ]
        },
        {
          "resolve": {"scale": {"color": "independent", "shape": "independent"}, "legend": {"color": "independent", "shape": "independent"}},
          "spacing": 6,
          "hconcat": [
            {
              "title": "Y₄R", "width": 72, "height": 62, "data": {"name": "y4"},
              "layer": [
                {"mark": {"type": "rule", "strokeDash": [1.5, 1.5], "color": "#777", "strokeWidth": 0.8}, "encoding": {"y": {"datum": 0, "type": "quantitative", "title": "Rel. Luminescence [%]"}}},
                {
                  "encoding": {
                    "x": {"field": "x", "type": "quantitative", "title": "log c [M], PP", "scale": {"domain": [-14, -5.7], "nice": false, "zero": false}, "axis": {"values": [-13, -12, -11, -10, -9, -8, -7, -6], "labelExpr": "datum.value == -13 ? 'w/o' : datum.label", "labelOverlap": false, "labelFontSize": 6, "offset": 3}},
                    "y": {"field": "y", "type": "quantitative", "title": "Rel. Luminescence [%]", "scale": {"domain": [-25, 125], "nice": false}, "axis": {"values": [0, 25, 50, 75, 100, 125], "titleFontSize": 6.5, "titleFontWeight": "normal"}},
                    "color": {"field": "c", "type": "nominal", "scale": {"domain": ["DMSO", "30 µM"], "range": ["#000000", "#6767a8"]}, "legend": null}
                  },
                  "layer": [
                    {"mark": {"type": "errorbar", "ticks": true}, "encoding": {"yError": {"field": "e"}}},
                    {"transform": [{"filter": "datum.x > -12.5"}], "mark": {"type": "line", "interpolate": "monotone", "strokeWidth": 1.1}, "encoding": {}},
                    {"mark": {"type": "point", "filled": true, "size": 16, "opacity": 1}, "encoding": {"shape": {"field": "c", "type": "nominal", "scale": {"domain": ["DMSO", "30 µM"], "range": ["square", "circle"]}, "legend": null}}}
                  ]
                }
              ]
            },
            {
              "width": 24, "height": 38,
              "layer": [
                {
                  "data": {"values": [{"c": "DMSO", "y": 100, "e": 1}, {"c": "30 µM", "y": 74, "e": 2}]},
                  "encoding": {
                    "x": {"field": "c", "type": "nominal", "title": null, "scale": {"domain": ["DMSO", "30 µM"], "paddingInner": 0.15, "paddingOuter": 0.12}, "axis": {"labelAngle": -45, "labelFontSize": 4.5, "tickSize": 1.5}},
                    "y": {"field": "y", "type": "quantitative", "title": "Basal cAMP level [%]", "scale": {"domain": [0, 125], "nice": false}, "axis": {"values": [0, 25, 50, 75, 100, 125], "labelFontSize": 3.8, "titleFontSize": 4, "titleFontWeight": "normal", "tickSize": 1.5, "titlePadding": 1}}
                  },
                  "layer": [
                    {"mark": {"type": "bar", "stroke": "#000", "strokeWidth": 0.4}, "encoding": {"color": {"field": "c", "type": "nominal", "scale": {"domain": ["DMSO", "30 µM"], "range": ["#000000", "#5a5a92"]}, "legend": null}}},
                    {"mark": {"type": "errorbar", "ticks": true, "color": "#000"}, "encoding": {"yError": {"field": "e"}}}
                  ]
                },
                {
                  "data": {"values": [{"a": "DMSO", "b": "30 µM", "y": 133, "d": 106}]},
                  "layer": [
                    {"mark": {"type": "rule", "strokeWidth": 0.6}, "encoding": {"x": {"field": "a", "type": "nominal", "title": null}, "x2": {"field": "b"}, "y": {"field": "y", "type": "quantitative", "title": "Basal cAMP level [%]"}}},
                    {"mark": {"type": "rule", "strokeWidth": 0.6}, "encoding": {"x": {"field": "a", "type": "nominal", "title": null}, "y": {"field": "y", "type": "quantitative", "title": "Basal cAMP level [%]"}, "y2": {"field": "d"}}},
                    {"mark": {"type": "rule", "strokeWidth": 0.6}, "encoding": {"x": {"field": "b", "type": "nominal", "title": null}, "y": {"field": "y", "type": "quantitative", "title": "Basal cAMP level [%]"}, "y2": {"field": "d"}}}
                  ]
                },
                {"data": {"values": [{"s": "***", "y": 134}]}, "mark": {"type": "text", "fontSize": 6.5, "fontWeight": "bold", "baseline": "bottom", "dy": 1}, "encoding": {"y": {"field": "y", "type": "quantitative", "title": "Basal cAMP level [%]"}, "text": {"field": "s"}}}
              ]
            }
          ]
        },
        {
          "resolve": {"scale": {"color": "independent", "shape": "independent"}, "legend": {"color": "independent", "shape": "independent"}},
          "spacing": 6,
          "hconcat": [
            {
              "title": "Y₅R", "width": 72, "height": 62, "data": {"name": "y5"},
              "layer": [
                {"mark": {"type": "rule", "strokeDash": [1.5, 1.5], "color": "#777", "strokeWidth": 0.8}, "encoding": {"y": {"datum": 0, "type": "quantitative", "title": "Rel. Luminescence [%]"}}},
                {
                  "encoding": {
                    "x": {"field": "x", "type": "quantitative", "title": "log c [M], NPY", "scale": {"domain": [-12.8, -5.7], "nice": false, "zero": false}, "axis": {"values": [-12, -11, -10, -9, -8, -7, -6], "labelExpr": "datum.value == -12 ? 'w/o' : datum.label", "labelOverlap": false, "labelFontSize": 6, "offset": 3}},
                    "y": {"field": "y", "type": "quantitative", "title": "Rel. Luminescence [%]", "scale": {"domain": [-25, 125], "nice": false}, "axis": {"values": [0, 25, 50, 75, 100, 125], "titleFontSize": 6.5, "titleFontWeight": "normal"}},
                    "color": {"field": "c", "type": "nominal", "scale": {"domain": ["DMSO", "30 µM"], "range": ["#000000", "#6767a8"]}, "legend": null}
                  },
                  "layer": [
                    {"mark": {"type": "errorbar", "ticks": true}, "encoding": {"yError": {"field": "e"}}},
                    {"transform": [{"filter": "datum.x > -11.5"}], "mark": {"type": "line", "interpolate": "monotone", "strokeWidth": 1.1}, "encoding": {}},
                    {"mark": {"type": "point", "filled": true, "size": 16, "opacity": 1}, "encoding": {"shape": {"field": "c", "type": "nominal", "scale": {"domain": ["DMSO", "30 µM"], "range": ["square", "circle"]}, "legend": null}}}
                  ]
                }
              ]
            },
            {
              "width": 24, "height": 38,
              "layer": [
                {
                  "data": {"values": [{"c": "DMSO", "y": 100, "e": 2}, {"c": "30 µM", "y": 98, "e": 4}]},
                  "encoding": {
                    "x": {"field": "c", "type": "nominal", "title": null, "scale": {"domain": ["DMSO", "30 µM"], "paddingInner": 0.15, "paddingOuter": 0.12}, "axis": {"labelAngle": -45, "labelFontSize": 4.5, "tickSize": 1.5}},
                    "y": {"field": "y", "type": "quantitative", "title": "Basal cAMP level [%]", "scale": {"domain": [0, 125], "nice": false}, "axis": {"values": [0, 25, 50, 75, 100, 125], "labelFontSize": 3.8, "titleFontSize": 4, "titleFontWeight": "normal", "tickSize": 1.5, "titlePadding": 1}}
                  },
                  "layer": [
                    {"mark": {"type": "bar", "stroke": "#000", "strokeWidth": 0.4}, "encoding": {"color": {"field": "c", "type": "nominal", "scale": {"domain": ["DMSO", "30 µM"], "range": ["#000000", "#5a5a92"]}, "legend": null}}},
                    {"mark": {"type": "errorbar", "ticks": true, "color": "#000"}, "encoding": {"yError": {"field": "e"}}}
                  ]
                },
                {
                  "data": {"values": [{"a": "DMSO", "b": "30 µM", "y": 133, "d": 118}]},
                  "layer": [
                    {"mark": {"type": "rule", "strokeWidth": 0.6}, "encoding": {"x": {"field": "a", "type": "nominal", "title": null}, "x2": {"field": "b"}, "y": {"field": "y", "type": "quantitative", "title": "Basal cAMP level [%]"}}},
                    {"mark": {"type": "rule", "strokeWidth": 0.6}, "encoding": {"x": {"field": "a", "type": "nominal", "title": null}, "y": {"field": "y", "type": "quantitative", "title": "Basal cAMP level [%]"}, "y2": {"field": "d"}}},
                    {"mark": {"type": "rule", "strokeWidth": 0.6}, "encoding": {"x": {"field": "b", "type": "nominal", "title": null}, "y": {"field": "y", "type": "quantitative", "title": "Basal cAMP level [%]"}, "y2": {"field": "d"}}}
                  ]
                },
                {"data": {"values": [{"s": "ns", "y": 134}]}, "mark": {"type": "text", "fontSize": 5.5, "baseline": "bottom", "dy": -1}, "encoding": {"y": {"field": "y", "type": "quantitative", "title": "Basal cAMP level [%]"}, "text": {"field": "s"}}}
              ]
            }
          ]
        }
      ]
    }
  ],
  "spacing": 0
}
